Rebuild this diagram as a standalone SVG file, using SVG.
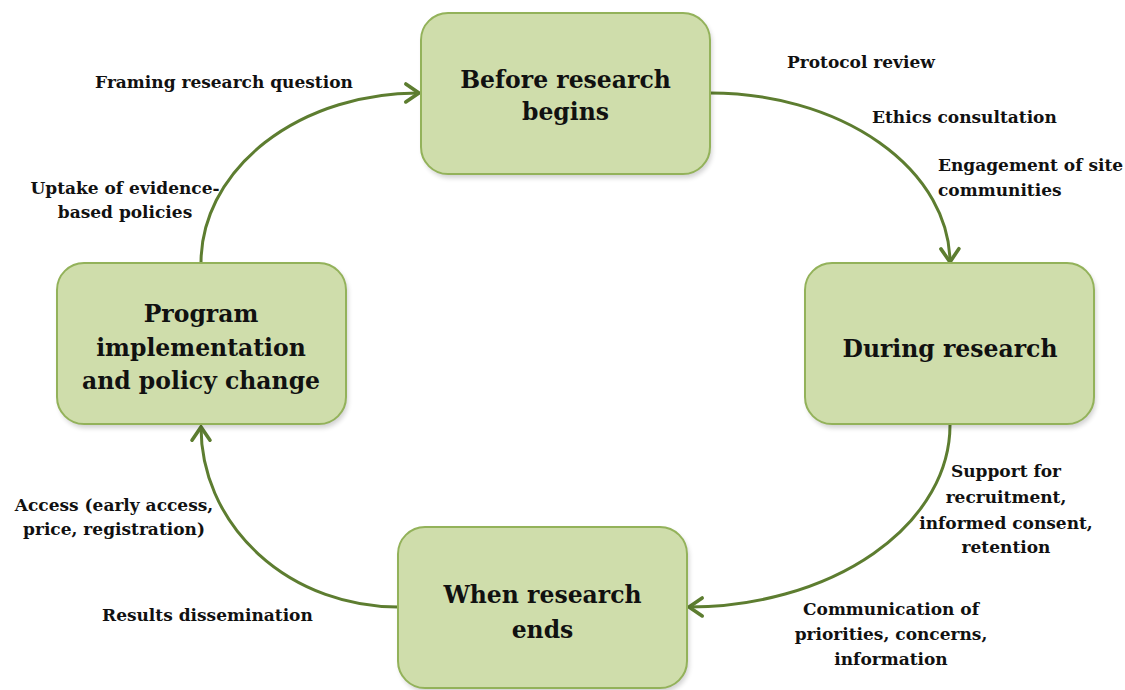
<svg xmlns="http://www.w3.org/2000/svg" width="1125" height="690" viewBox="0 0 1125 690">
<style>
.box{fill:#cfddab;stroke:#93b25a;stroke-width:2}
.shadow{fill:#000;opacity:0.18;filter:url(#blur)}
.nt{font-family:"DejaVu Serif","Liberation Serif",serif;font-weight:bold;font-size:23.5px;fill:#111;text-anchor:middle}
.lb{font-family:"DejaVu Serif","Liberation Serif",serif;font-weight:bold;font-size:17px;fill:#111}
.c{text-anchor:middle}
.conn{fill:none;stroke:#5d7d30;stroke-width:3;marker-end:url(#ah)}
</style>
<defs>
<filter id="blur" x="-10%" y="-10%" width="120%" height="130%"><feGaussianBlur stdDeviation="2.5"/></filter>
<marker id="ah" markerUnits="userSpaceOnUse" markerWidth="24" markerHeight="24" viewBox="-14 -10 16 20" refX="0" refY="0" orient="auto">
<path d="M-11,-7.5 L0,0 L-11,7.5" fill="none" stroke="#5d7d30" stroke-width="3" stroke-linecap="round" stroke-linejoin="miter"/>
</marker>
</defs>
<rect width="1125" height="690" fill="#fff"/>

<g id="connectors">
<path class="conn" d="M201,263 A217,170 0 0 1 419,93"/>
<path class="conn" d="M710,93 A240,170 0 0 1 950,262"/>
<path class="conn" d="M950,425 A262,182 0 0 1 689,607"/>
<path class="conn" d="M398,607 A197,180 0 0 1 201,427"/>
</g>

<g id="node-before">
<rect class="shadow" x="423" y="16" width="289" height="162" rx="27"/>
<rect class="box" x="421" y="13" width="289" height="161" rx="27"/>
<text class="nt" x="565.5" y="88">Before research</text>
<text class="nt" x="565.5" y="120">begins</text>
</g>

<g id="node-during">
<rect class="shadow" x="807" y="266" width="289" height="162" rx="27"/>
<rect class="box" x="805" y="263" width="289" height="161" rx="27"/>
<text class="nt" x="950" y="357">During research</text>
</g>

<g id="node-program">
<rect class="shadow" x="59" y="266" width="289" height="162" rx="27"/>
<rect class="box" x="57" y="263" width="289" height="161" rx="27"/>
<text class="nt" x="201" y="322">Program</text>
<text class="nt" x="201" y="356">implementation</text>
<text class="nt" x="201" y="389">and policy change</text>
</g>

<g id="node-ends">
<rect class="shadow" x="400" y="530" width="289" height="162" rx="27"/>
<rect class="box" x="398" y="527" width="289" height="161" rx="27"/>
<text class="nt" x="542.5" y="603">When research</text>
<text class="nt" x="542.5" y="638">ends</text>
</g>

<g id="labels">
<text class="lb c" x="224" y="88">Framing research question</text>
<text class="lb c" x="125" y="194">Uptake of evidence-</text>
<text class="lb c" x="125" y="218">based policies</text>
<text class="lb" x="787" y="68">Protocol review</text>
<text class="lb" x="872" y="123">Ethics consultation</text>
<text class="lb" x="938" y="171">Engagement of site</text>
<text class="lb" x="938" y="196">communities</text>
<text class="lb c" x="1006" y="477">Support for</text>
<text class="lb c" x="1006" y="503">recruitment,</text>
<text class="lb c" x="1006" y="529">informed consent,</text>
<text class="lb c" x="1006" y="553">retention</text>
<text class="lb c" x="891" y="615">Communication of</text>
<text class="lb c" x="891" y="640">priorities, concerns,</text>
<text class="lb c" x="891" y="665">information</text>
<text class="lb c" x="114" y="511">Access (early access,</text>
<text class="lb c" x="114" y="535">price, registration)</text>
<text class="lb" x="102" y="621">Results dissemination</text>
</g>
</svg>
